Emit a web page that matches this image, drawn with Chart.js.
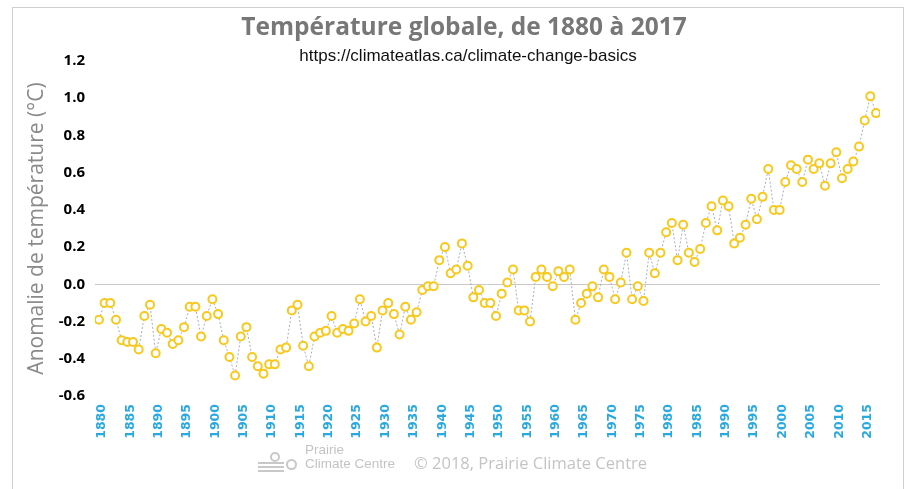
<!DOCTYPE html>
<html>
<head>
<meta charset="utf-8">
<script src="https://cdn.jsdelivr.net/npm/chart.js@4"></script>
<style>
  html,body{margin:0;padding:0;background:#fff;}
  #wrap{position:relative;width:912px;height:489px;overflow:hidden;background:#fff;}
  #frame{position:absolute;left:12px;top:7px;width:892px;height:500px;border:1px solid #cfcfcf;box-sizing:border-box;}
  #c{position:absolute;left:0;top:0;}
  .txt{position:absolute;white-space:nowrap;}
  #title{left:0;width:928px;top:9px;text-align:center;font:bold 24.5px "Open Sans",sans-serif;color:#777;}
  #sub{left:0;width:936px;top:46px;text-align:center;font:17px "Liberation Sans",sans-serif;color:#111;}
  #copy{left:414px;top:451px;font:16.5px "Open Sans",sans-serif;color:#c4c4c4;}
  #logo1{left:305px;top:443px;font:13.5px "Liberation Sans",sans-serif;color:#c4c4c4;line-height:14px;}
  .bar{position:absolute;height:2px;background:#c8c8c8;}
  .ring{position:absolute;border:2px solid #c8c8c8;border-radius:50%;}
</style>
</head>
<body>
<div id="wrap">
  <div id="frame"></div>
  <canvas id="c" width="912" height="489"></canvas>
  <div class="txt" id="title">Température globale, de 1880 à 2017</div>
  <div class="txt" id="sub">https://climateatlas.ca/climate-change-basics</div>
  <div class="bar" style="left:258px;top:462px;width:26px;"></div>
  <div class="bar" style="left:258px;top:466px;width:26px;"></div>
  <div class="bar" style="left:258px;top:470px;width:26px;"></div>
  <div class="ring" style="left:270px;top:452px;width:6px;height:6px;"></div>
  <div class="ring" style="left:286px;top:459px;width:7px;height:7px;"></div>
  <div class="txt" id="logo1">Prairie<br>Climate Centre</div>
  <div class="txt" id="copy">© 2018, Prairie Climate Centre</div>
</div>
<script>
const years = [];
for (let y = 1880; y <= 2017; y++) years.push(y);

const anomalies = [
  -0.19,-0.10,-0.10,-0.19,-0.30,-0.31,-0.31,-0.35,-0.17,-0.11,
  -0.37,-0.24,-0.26,-0.32,-0.30,-0.23,-0.12,-0.12,-0.28,-0.17,
  -0.08,-0.16,-0.30,-0.39,-0.49,-0.28,-0.23,-0.39,-0.44,-0.48,
  -0.43,-0.43,-0.35,-0.34,-0.14,-0.11,-0.33,-0.44,-0.28,-0.26,
  -0.25,-0.17,-0.26,-0.24,-0.25,-0.21,-0.08,-0.20,-0.17,-0.34,
  -0.14,-0.10,-0.16,-0.27,-0.12,-0.19,-0.15,-0.03,-0.01,-0.01,
   0.13, 0.20, 0.06, 0.08, 0.22, 0.10,-0.07,-0.03,-0.10,-0.10,
  -0.17,-0.05, 0.01, 0.08,-0.14,-0.14,-0.20, 0.04, 0.08, 0.04,
  -0.01, 0.07, 0.04, 0.08,-0.19,-0.10,-0.05,-0.01,-0.07, 0.08,
   0.04,-0.08, 0.01, 0.17,-0.08,-0.01,-0.09, 0.17, 0.06, 0.17,
   0.28, 0.33, 0.13, 0.32, 0.17, 0.12, 0.19, 0.33, 0.42, 0.29,
   0.45, 0.42, 0.22, 0.25, 0.32, 0.46, 0.35, 0.47, 0.62, 0.40,
   0.40, 0.55, 0.64, 0.62, 0.55, 0.67, 0.62, 0.65, 0.53, 0.65,
   0.71, 0.57, 0.62, 0.66, 0.74, 0.88, 1.01, 0.92
];

const xTickYears = [];
for (let y = 1880; y <= 2015; y += 5) xTickYears.push(y);
const yTicks = [-0.6,-0.4,-0.2,0.0,0.2,0.4,0.6,0.8,1.0,1.2];

const points = years.map((y, i) => ({x: y, y: anomalies[i]}));

new Chart(document.getElementById('c'), {
  type: 'line',
  data: {
    datasets: [{
      data: points,
      borderColor: '#a7adbf',
      borderWidth: 1,
      borderDash: [2, 2],
      pointRadius: 4,
      pointHoverRadius: 4,
      pointBorderWidth: 2,
      pointBorderColor: '#f8c81c',
      pointBackgroundColor: '#ffffff',
      tension: 0
    }]
  },
  options: {
    responsive: false,
    animation: false,
    devicePixelRatio: 1,
    layout: { padding: { left: 20, right: 32, top: 61, bottom: 41 } },
    plugins: { legend: { display: false }, tooltip: { enabled: false } },
    scales: {
      x: {
        type: 'linear',
        min: 1879.3,
        max: 2017.7,
        afterBuildTicks: s => { s.ticks = xTickYears.map(v => ({value: v})); },
        afterFit: s => { s.height = 52; },
        grid: { display: false, drawTicks: false },
        border: { display: false },
        ticks: {
          autoSkip: false,
          maxRotation: 90,
          minRotation: 90,
          padding: 8,
          labelOffset: 3,
          color: '#2aa9e0',
          font: { family: 'DejaVu Sans', weight: 'bold', size: 12.5 },
          callback: v => String(v)
        }
      },
      y: {
        min: -0.6,
        max: 1.2,
        afterBuildTicks: s => { s.ticks = yTicks.map(v => ({value: v})); },
        afterFit: s => { s.width = 75; },
        grid: {
          drawTicks: false,
          color: c => (c.tick && Math.abs(c.tick.value) < 1e-9) ? '#c8c8c8' : 'rgba(0,0,0,0)',
          lineWidth: 1
        },
        border: { display: false },
        title: {
          display: true,
          text: 'Anomalie de température (°C)',
          color: '#8a8a8a',
          font: { family: 'Open Sans', size: 21 },
          padding: { top: 4, bottom: 0 }
        },
        ticks: {
          padding: 10,
          color: '#000',
          font: { family: 'Open Sans', weight: 'bold', size: 15 },
          callback: v => Number(v).toFixed(1)
        }
      }
    }
  }
});
</script>
</body>
</html>
